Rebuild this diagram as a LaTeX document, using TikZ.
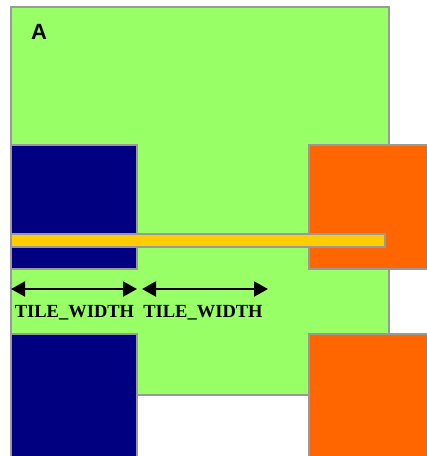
\documentclass[tikz,border=0pt]{standalone}
\usepackage{fontspec}
\setmainfont{Liberation Serif}
\newfontfamily\labelsans{Liberation Sans}
\usetikzlibrary{arrows.meta,positioning}
\definecolor{tilegreen}{HTML}{99FF66}
\definecolor{tileblue}{HTML}{000080}
\definecolor{tileorange}{HTML}{FF6600}
\definecolor{tileyellow}{HTML}{FFCC00}
\definecolor{edgegray}{HTML}{999999}

\begin{document}
\begin{tikzpicture}[
  x=1pt, y=-1pt,
  tile/.style={rectangle, draw=edgegray, line width=2pt, inner sep=0pt,
               outer sep=0pt, anchor=north west},
  greentile/.style={tile, fill=tilegreen},
  bluetile/.style={tile, fill=tileblue},
  orangetile/.style={tile, fill=tileorange},
  bar/.style={tile, fill=tileyellow},
  dimarr/.style={{Triangle[length=14pt,width=15pt]}-{Triangle[length=14pt,width=15pt]}, line width=2pt},
  dimlabel/.style={font=\fontsize{18.5}{19}\selectfont\bfseries, inner sep=0pt}
]
  \useasboundingbox (0,0) rectangle (427,456);
  \clip (0,0) rectangle (427,456);

  % tiles
  \node[greentile, minimum width=378pt, minimum height=388pt] (big) at (11,7) {};
  \node[bluetile, minimum width=126pt, minimum height=124pt] (blueup) at (11,145) {};
  \node[bluetile, minimum width=126pt, minimum height=140pt] (bluedown) at (11,334) {};
  \node[orangetile, minimum width=140pt, minimum height=124pt] (orangeup) at (309,145) {};
  \node[orangetile, minimum width=140pt, minimum height=140pt] (orangedown) at (309,334) {};
  \node[bar, minimum width=374pt, minimum height=12.5pt] (strip) at (11,234) {};

  \node[font=\labelsans\fontsize{22}{22}\selectfont\bfseries, inner sep=0pt] (tag) at (39,32) {A};

  % widths
  \coordinate (w0) at (11,289);
  \coordinate (w1) at (137,289);
  \coordinate (w2) at (142,289);
  \coordinate (w3) at (268,289);
  \draw[dimarr] (w0) -- (w1);
  \draw[dimarr] (w2) -- (w3);
  \node[dimlabel] (wlabel1) at (74.5,313) {TILE\_WIDTH};
  \node[dimlabel] (wlabel2) at (203,313) {TILE\_WIDTH};
\end{tikzpicture}
\end{document}
